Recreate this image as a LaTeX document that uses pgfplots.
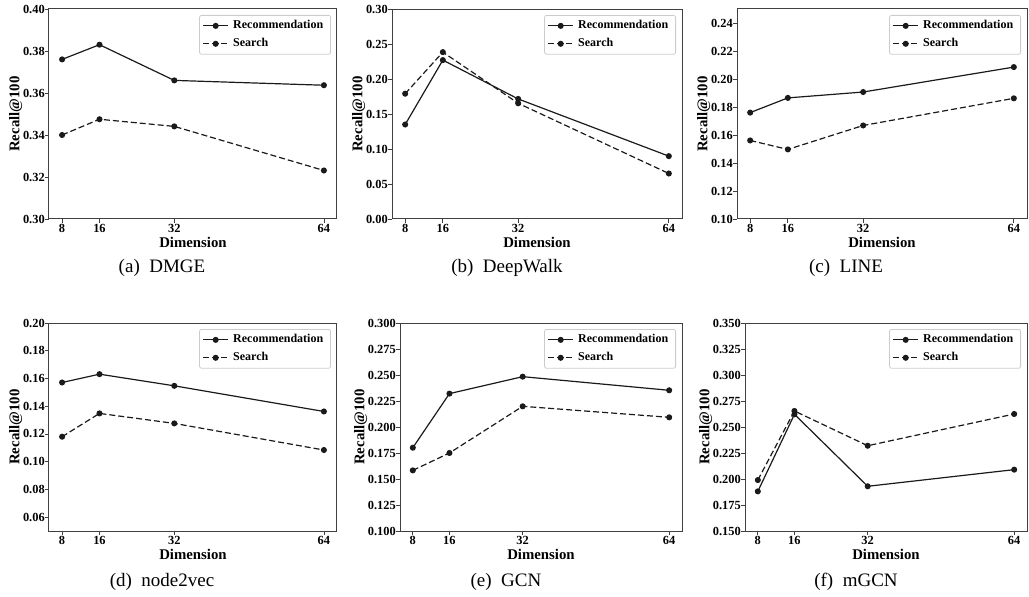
\documentclass[border=0pt]{standalone}
\usepackage{fontspec}
\setmainfont{Liberation Serif}
\usepackage{pgfplots}
\pgfplotsset{compat=1.18}

\definecolor{ln}{HTML}{1A1A1A}

\pgfplotsset{
  panel/.style={
    scale only axis, anchor=south west, height=105pt,
    xmin=5.2, xmax=66.8, xtick={8,16,32,64},
    axis line style={black!75, line width=0.5pt},
    tick align=outside, xtick pos=bottom, ytick pos=left,
    major tick length=1.8pt, tick style={black!75, line width=0.4pt},
    tick label style={font=\fontsize{6.2}{7}\selectfont\bfseries},
    xticklabel style={yshift=2.5pt},
    yticklabel style={xshift=3.2pt},
    /pgf/number format/assume math mode=true,
    yticklabel style={/pgf/number format/.cd, fixed, fixed zerofill, precision=2},
    xlabel={Dimension}, ylabel={Recall@100},
    label style={font=\fontsize{7.4}{8}\selectfont\bfseries},
    xlabel style={yshift=5pt},
    ylabel style={yshift=-6.5pt},
    legend style={at={(1,1)}, anchor=north east, xshift=-3pt, yshift=-3pt,
      draw=black!20, rounded corners=1pt,
      font=\fontsize{6}{6}\selectfont\bfseries, inner sep=1.5pt,
      nodes={inner ysep=0.9pt, inner xsep=2.2pt}, row sep=1.5pt},
    legend cell align=left,
    legend image code/.code={\draw[mark repeat=2,mark phase=2]
      plot coordinates {(0cm,0cm)(0.22cm,0cm)(0.44cm,0cm)};},
  },
  threedig/.style={yticklabel style={/pgf/number format/.cd, fixed, fixed zerofill, precision=3}},
  rec/.style={color=ln, line width=0.6pt, mark=*, mark size=1.2pt},
  sea/.style={color=ln, line width=0.6pt, dash pattern=on 3pt off 1.5pt,
    mark=*, mark size=1.2pt, mark options={solid}},
}

\begin{document}
\begin{tikzpicture}
\useasboundingbox (0,0) rectangle (514.5pt,298pt);

% (a) DMGE
\begin{axis}[panel, at={(24.5pt,188.5pt)}, width=144pt,
  ymin=0.30, ymax=0.40, ytick={0.30,0.32,0.34,0.36,0.38,0.40}]
\addplot[rec] coordinates {(8,0.376)(16,0.383)(32,0.366)(64,0.3637)};
\addplot[sea] coordinates {(8,0.340)(16,0.3475)(32,0.3441)(64,0.3231)};
\legend{Recommendation,Search}
\end{axis}

% (b) DeepWalk
\begin{axis}[panel, at={(196pt,188.5pt)}, width=145pt,
  ymin=0, ymax=0.30, ytick={0,0.05,0.10,0.15,0.20,0.25,0.30}]
\addplot[rec] coordinates {(8,0.135)(16,0.227)(32,0.1715)(64,0.0898)};
\addplot[sea] coordinates {(8,0.179)(16,0.2384)(32,0.1653)(64,0.065)};
\legend{Recommendation,Search}
\end{axis}

% (c) LINE
\begin{axis}[panel, at={(368.5pt,188.5pt)}, width=145pt,
  ymin=0.10, ymax=0.25, ytick={0.10,0.12,0.14,0.16,0.18,0.20,0.22,0.24}]
\addplot[rec] coordinates {(8,0.176)(16,0.1865)(32,0.1907)(64,0.2085)};
\addplot[sea] coordinates {(8,0.1561)(16,0.1497)(32,0.1668)(64,0.1862)};
\legend{Recommendation,Search}
\end{axis}

% (d) node2vec
\begin{axis}[panel, at={(24.5pt,32.5pt)}, width=144pt, height=104pt,
  ymin=0.05, ymax=0.20, ytick={0.06,0.08,0.10,0.12,0.14,0.16,0.18,0.20}]
\addplot[rec] coordinates {(8,0.1571)(16,0.1631)(32,0.1547)(64,0.1362)};
\addplot[sea] coordinates {(8,0.118)(16,0.1348)(32,0.1276)(64,0.1084)};
\legend{Recommendation,Search}
\end{axis}

% (e) GCN
\begin{axis}[panel, threedig, at={(200pt,32.5pt)}, width=141pt, height=104pt,
  ymin=0.10, ymax=0.30, ytick={0.100,0.125,0.150,0.175,0.200,0.225,0.250,0.275,0.300}]
\addplot[rec] coordinates {(8,0.1801)(16,0.2321)(32,0.2484)(64,0.2353)};
\addplot[sea] coordinates {(8,0.1583)(16,0.175)(32,0.2199)(64,0.2093)};
\legend{Recommendation,Search}
\end{axis}

% (f) mGCN
\begin{axis}[panel, threedig, at={(372.5pt,32.5pt)}, width=141pt, height=104pt,
  ymin=0.15, ymax=0.35, ytick={0.150,0.175,0.200,0.225,0.250,0.275,0.300,0.325,0.350}]
\addplot[rec] coordinates {(8,0.1881)(16,0.2622)(32,0.193)(64,0.209)};
\addplot[sea] coordinates {(8,0.199)(16,0.2654)(32,0.232)(64,0.2625)};
\legend{Recommendation,Search}
\end{axis}

% sub-captions
\begin{scope}[every node/.style={font=\fontsize{9.5}{11}\selectfont}]
\node at (81pt,164pt) {(a)~~DMGE};
\node at (253.5pt,164pt) {(b)~~DeepWalk};
\node at (423pt,164pt) {(c)~~LINE};
\node at (81pt,7pt) {(d)~~node2vec};
\node at (253pt,7pt) {(e)~~GCN};
\node at (428pt,7pt) {(f)~~mGCN};
\end{scope}
\end{tikzpicture}
\end{document}
